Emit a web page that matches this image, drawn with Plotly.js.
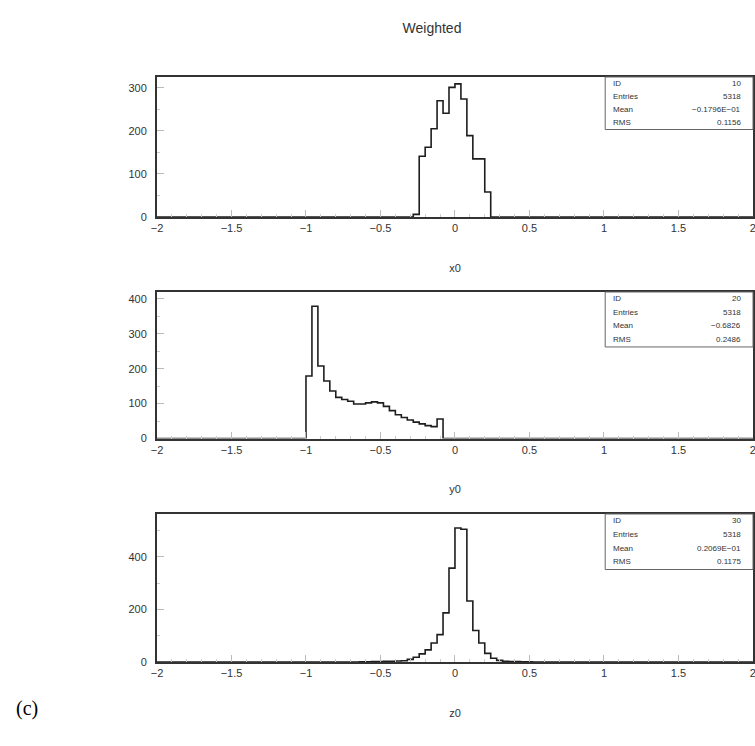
<!DOCTYPE html>
<html>
<head>
<meta charset="utf-8">
<script src="https://cdn.plot.ly/plotly-3.0.1.min.js"></script>
<style>html,body{margin:0;padding:0;background:#fff;}#chart{width:755px;height:746px;}</style>
</head>
<body>
<div id="chart"></div>
<script>
// ---- data (100 bins of width 0.04 over [-2, 2]; only the non-empty stretch is listed) ----
const binWidth = 0.04;
const axisMin = -2, axisMax = 2;

const x0Start = -0.28;
const x0Counts = [6, 141, 162, 205, 270, 241, 301, 309, 274, 189, 135, 135, 58];

const y0Start = -1.0;
const y0Counts = [179, 379, 208, 165, 136, 118, 112, 107, 99, 99, 102, 105, 102, 92, 80, 68, 60, 53, 47, 42, 37, 34, 56];

const z0Start = -0.64;
const z0Counts = [1, 1, 2, 2, 3, 3, 4, 5, 10, 18, 31, 46, 72, 104, 187, 357, 510, 505, 232, 120, 72, 33, 14, 6, 3, 2, 2, 1, 1];

const panelNames = ["x0", "y0", "z0"];
const statIDs = ["10", "20", "30"];
const statEntries = ["5318", "5318", "5318"];
const statMeans = ["\u22120.1796E\u221201", "\u22120.6826", "0.2069E\u221201"];
const statRMS = ["0.1156", "0.2486", "0.1175"];
const statLabels = ["ID", "Entries", "Mean", "RMS"];

// ---- build step outlines ----
function stepTrace(start, counts, xa, ya) {
  const xs = [axisMin], ys = [0];
  for (let i = 0; i < counts.length; i++) {
    xs.push(+(start + i * binWidth).toFixed(4));
    ys.push(counts[i]);
  }
  xs.push(+(start + counts.length * binWidth).toFixed(4)); ys.push(0);
  xs.push(axisMax); ys.push(0);
  return {
    type: "scatter", mode: "lines", x: xs, y: ys,
    line: {shape: "hv", color: "#1e1e1e", width: 1.6},
    xaxis: xa, yaxis: ya, hoverinfo: "skip", showlegend: false, cliponaxis: true
  };
}

const traces = [
  stepTrace(x0Start, x0Counts, "x", "y"),
  stepTrace(y0Start, y0Counts, "x2", "y2"),
  stepTrace(z0Start, z0Counts, "x3", "y3")
];

const W = 755, H = 746;
const tickFont = {family: "Liberation Sans, Arial, sans-serif", size: 11, color: "#333"};
function xAxis(anchor, title) {
  return {
    anchor: anchor, domain: [0, 1], range: [axisMin, axisMax + 0.0005],
    dtick: 0.5, tick0: 0, ticks: "inside", ticklen: 7, tickcolor: "#bbb", tickwidth: 1,
    minor: {ticks: "inside", ticklen: 3, dtick: 0.1, tickcolor: "#ccc"},
    showline: true, mirror: true, linecolor: "#333", linewidth: 2,
    showgrid: false, zeroline: false, tickfont: tickFont, ticklabeloverflow: "allow",
    title: {text: title, font: {family: "Liberation Sans, Arial, sans-serif", size: 11, color: "#333"}, standoff: 31},
    automargin: false
  };
}
function yAxis(anchor, domain, top, dt) {
  return {
    anchor: anchor, domain: domain, range: [0, top], dtick: dt,
    ticks: "inside", ticklen: 7, tickcolor: "#bbb", tickwidth: 1,
    minor: {ticks: "inside", ticklen: 3, dtick: dt / 2, tickcolor: "#ccc"},
    showline: true, mirror: true, linecolor: "#333", linewidth: 2,
    showgrid: false, zeroline: false, tickfont: tickFont, ticklabelstandoff: 6,
    automargin: false
  };
}

// panel pixel extents (top, bottom)
const panels = [[77, 217], [292, 438.5], [514, 662]];
const dom = panels.map(p => [1 - p[1] / H, 1 - p[0] / H]);

const shapes = [], annotations = [];
const axisSuffix = ["", "2", "3"];
for (let k = 0; k < 3; k++) {
  const s = axisSuffix[k];
  shapes.push({type: "rect", xref: "x" + s + " domain", yref: "y" + s + " domain",
    x0: 0.752, x1: 1, y0: 0.625, y1: 1, line: {color: "#666", width: 1}, fillcolor: "rgba(255,255,255,0)"});
  const vals = [statIDs[k], statEntries[k], statMeans[k], statRMS[k]];
  for (let r = 0; r < 4; r++) {
    const yy = 0.955 - r * 0.093;
    annotations.push({xref: "x" + s + " domain", yref: "y" + s + " domain", x: 0.762, y: yy,
      xanchor: "left", yanchor: "middle", text: statLabels[r], showarrow: false,
      font: {family: "Liberation Sans, Arial, sans-serif", size: 8, color: "#333"}});
    annotations.push({xref: "x" + s + " domain", yref: "y" + s + " domain", x: 0.983, y: yy,
      xanchor: "right", yanchor: "middle", text: vals[r], showarrow: false,
      font: {family: "Liberation Sans, Arial, sans-serif", size: 8, color: "#333"}});
  }
}
annotations.push({xref: "paper", yref: "paper", x: -0.24, y: 1 - 708 / H, xanchor: "left", yanchor: "middle",
  text: "(c)", showarrow: false, font: {family: "Liberation Serif, DejaVu Serif, serif", size: 20, color: "#000"}});

const layout = {
  width: W, height: H,
  margin: {l: 157, r: 2, t: 0, b: 0},
  paper_bgcolor: "#fff", plot_bgcolor: "#fff",
  title: {text: "Weighted", x: 432 / W, xanchor: "center", xref: "container", y: 1 - 28 / H, yanchor: "middle", yref: "container",
    font: {family: "Liberation Sans, Arial, sans-serif", size: 14, color: "#333"}},
  xaxis: xAxis("y", panelNames[0]),
  yaxis: yAxis("x", dom[0], 325, 100),
  xaxis2: xAxis("y2", panelNames[1]),
  yaxis2: yAxis("x2", dom[1], 420, 100),
  xaxis3: xAxis("y3", panelNames[2]),
  yaxis3: yAxis("x3", dom[2], 563, 200),
  shapes: shapes, annotations: annotations, showlegend: false
};

Plotly.newPlot("chart", traces, layout, {staticPlot: true, displayModeBar: false});
</script>
</body>
</html>
